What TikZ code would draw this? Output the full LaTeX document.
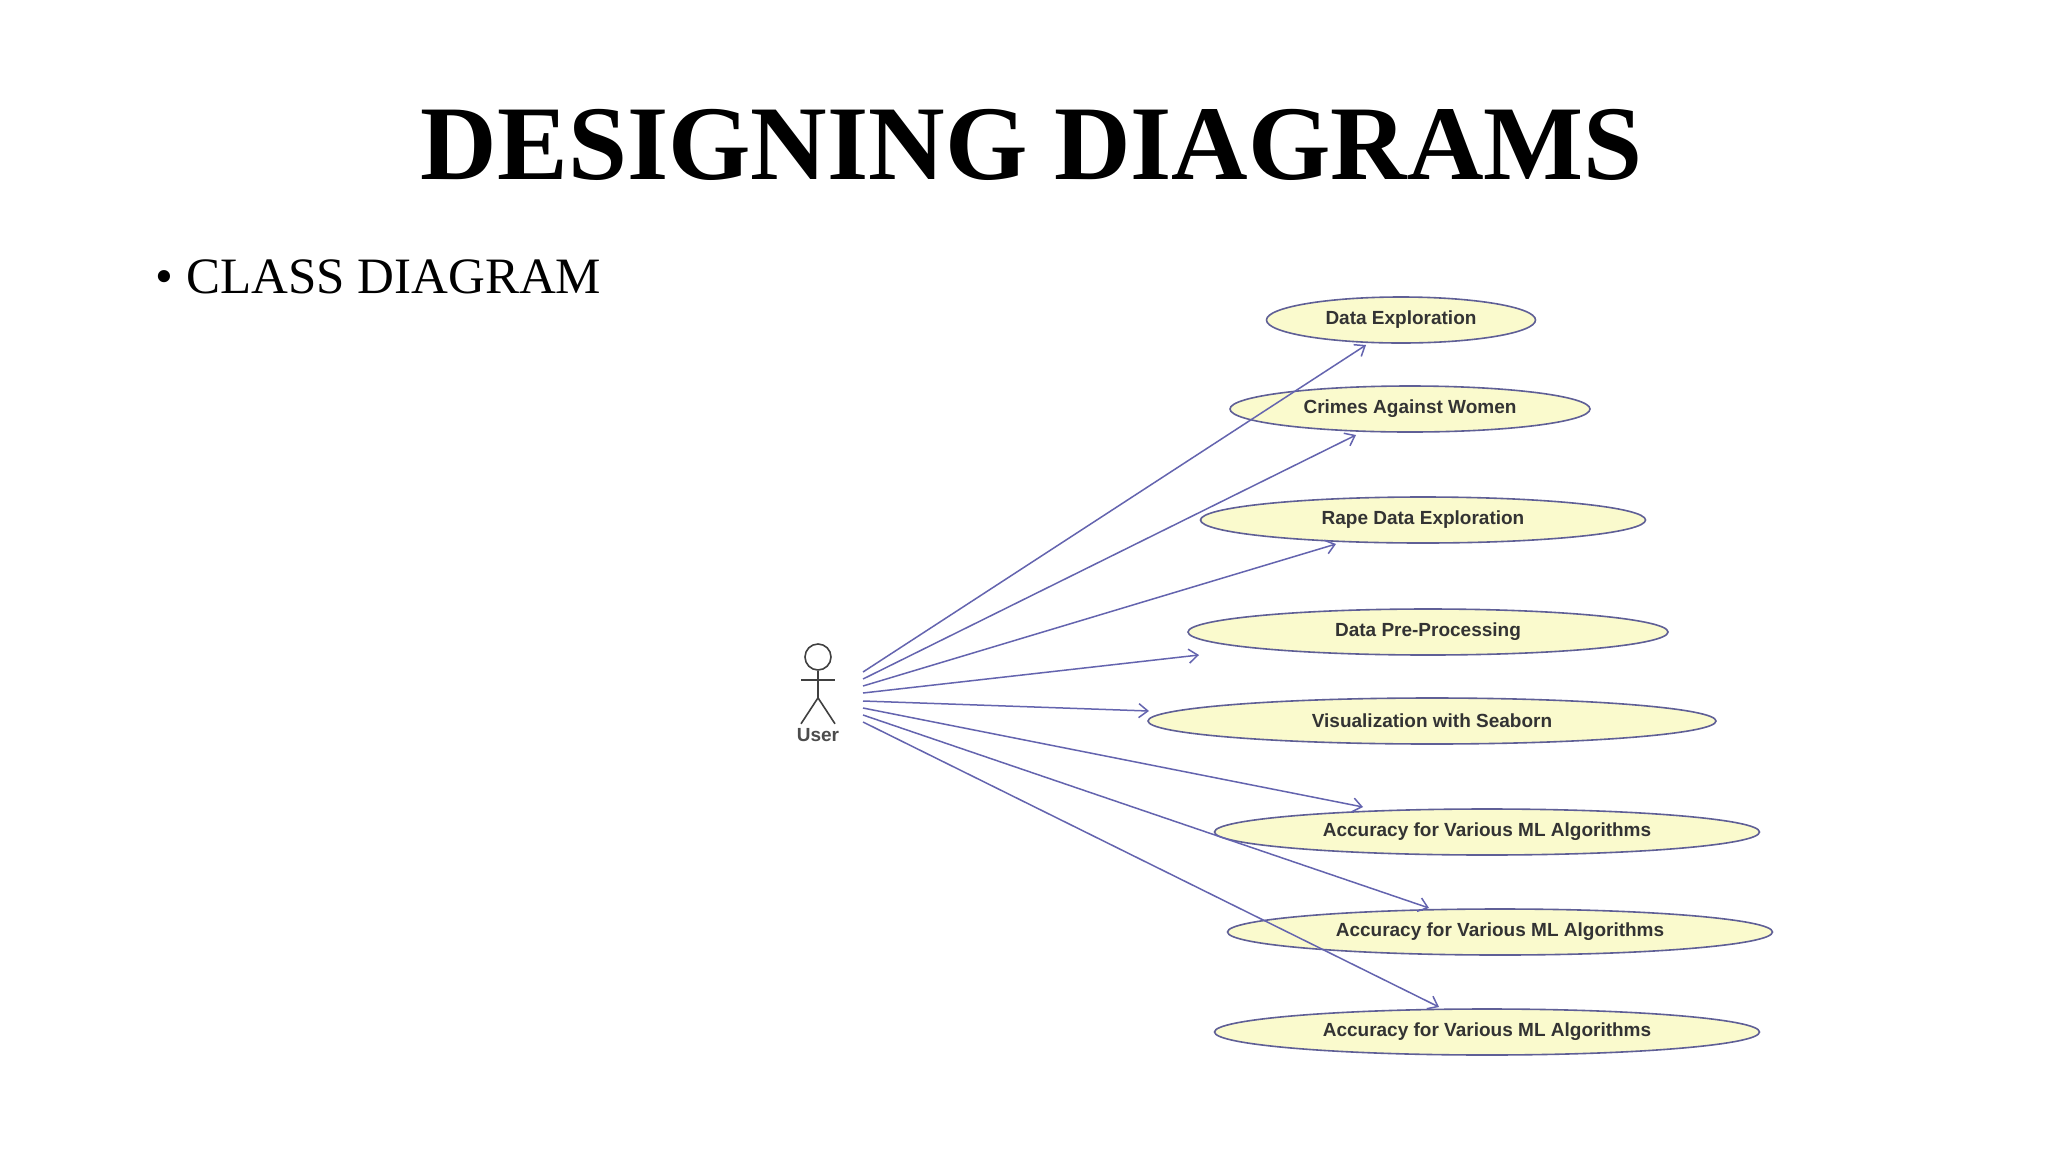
\documentclass[tikz,border=0pt]{standalone}
\usepackage{fontspec}
\setmainfont{Liberation Serif}
\newfontfamily\ucfont{Liberation Sans}
\usetikzlibrary{arrows.meta,shapes.geometric}
\definecolor{ucfill}{RGB}{250,250,205}
\definecolor{ucline}{RGB}{95,95,150}
\definecolor{arr}{RGB}{100,100,175}
\begin{document}
\begin{tikzpicture}[x=1pt,y=-1pt,
  uc/.style={ellipse,draw=ucline,line width=1.6pt,fill=ucfill,inner sep=0pt,minimum height=46pt,font=\ucfont\bfseries\fontsize{19}{21}\selectfont,text=black!80},
  assoc/.style={draw=arr,line width=1.5pt,-{Straight Barb[length=9pt,width=14pt]}}]
\useasboundingbox (0,0) rectangle (2048,1152);
\fill[white] (0,0) rectangle (2048,1152);
\node[font=\bfseries\fontsize{106}{110}\selectfont] (title) at (1032,145) {DESIGNING DIAGRAMS};
\node[anchor=west,font=\fontsize{51}{56}\selectfont] (bullet) at (152,277) {\textbullet\ CLASS DIAGRAM};
\begin{scope}[xshift=-11pt]
% use cases
\node[uc,minimum width=269pt] (u1) at (1412,320) {Data Exploration};
\node[uc,minimum width=360pt] (u2) at (1421,409) {Crimes Against Women};
\node[uc,minimum width=445pt] (u3) at (1434,520) {Rape Data Exploration};
\node[uc,minimum width=480pt] (u4) at (1439,632) {Data Pre-Processing};
\node[uc,minimum width=568pt] (u5) at (1443,721) {Visualization with Seaborn};
\node[uc,minimum width=545pt] (u6) at (1498,832) {Accuracy for Various ML Algorithms};
\node[uc,minimum width=545pt] (u7) at (1511,932) {Accuracy for Various ML Algorithms};
\node[uc,minimum width=545pt] (u8) at (1498,1032) {Accuracy for Various ML Algorithms};
% actor
\node[circle,draw=black!75,line width=1.6pt,minimum size=26pt,inner sep=0pt] (head) at (829,657) {};
\draw[draw=black!75,line width=1.6pt] (head.south) -- ++(0,27) coordinate (hip);
\draw[draw=black!75,line width=1.6pt] (812,680) -- (846,680);
\draw[draw=black!75,line width=1.6pt] (hip) -- ++(-17,26);
\draw[draw=black!75,line width=1.6pt] (hip) -- ++(17,26);
\node[font=\ucfont\bfseries\fontsize{19}{21}\selectfont,text=black!70] (user) at (829,735) {User};
% start coordinates
\coordinate (s1) at (874,672);
\coordinate (s2) at (874,679);
\coordinate (s3) at (874,686);
\coordinate (s4) at (874,693);
\coordinate (s5) at (874,701);
\coordinate (s6) at (874,708);
\coordinate (s7) at (874,715);
\coordinate (s8) at (874,722);
% end coordinates
\coordinate (e1) at (1377,345);
\coordinate (e2) at (1367,435);
\coordinate (e3) at (1347,544);
\coordinate (e4) at (1210,655);
\coordinate (e5) at (1160,711);
\coordinate (e6) at (1374,807);
\coordinate (e7) at (1440,908);
\coordinate (e8) at (1450,1007);
\foreach \i in {1,...,8} \draw[assoc] (s\i) -- (e\i);
\end{scope}
\end{tikzpicture}
\end{document}
